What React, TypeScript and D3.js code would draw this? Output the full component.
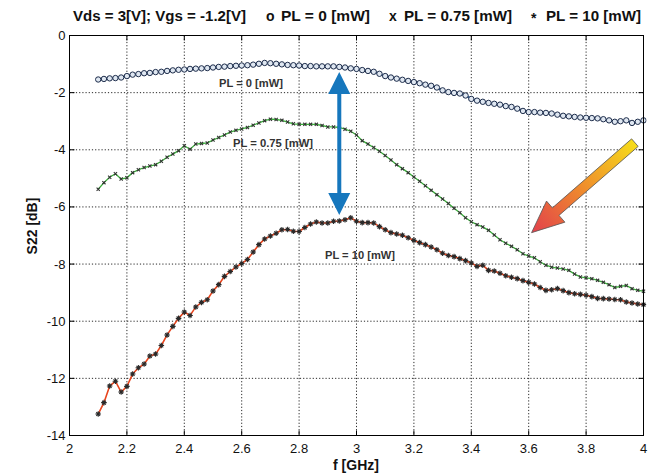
import React from "react";
import * as d3 from "d3";

const FREQ = [2.10,2.12,2.14,2.16,2.18,2.20,2.22,2.24,2.26,2.28,2.30,2.32,2.34,2.36,2.38,2.40,2.42,2.44,2.46,2.48,2.50,2.52,2.54,2.56,2.58,2.60,2.62,2.64,2.66,2.68,2.70,2.72,2.74,2.76,2.78,2.80,2.82,2.84,2.86,2.88,2.90,2.92,2.94,2.96,2.98,3.00,3.02,3.04,3.06,3.08,3.10,3.12,3.14,3.16,3.18,3.20,3.22,3.24,3.26,3.28,3.30,3.32,3.34,3.36,3.38,3.40,3.42,3.44,3.46,3.48,3.50,3.52,3.54,3.56,3.58,3.60,3.62,3.64,3.66,3.68,3.70,3.72,3.74,3.76,3.78,3.80,3.82,3.84,3.86,3.88,3.90,3.92,3.94,3.96,3.98,4.00];

const PL0 = [-1.54,-1.52,-1.50,-1.49,-1.47,-1.42,-1.37,-1.35,-1.32,-1.31,-1.28,-1.27,-1.24,-1.22,-1.20,-1.19,-1.17,-1.16,-1.15,-1.14,-1.12,-1.10,-1.09,-1.07,-1.06,-1.05,-1.04,-1.02,-0.99,-0.96,-0.97,-0.99,-1.01,-1.03,-1.04,-1.05,-1.07,-1.07,-1.08,-1.08,-1.08,-1.08,-1.10,-1.12,-1.15,-1.17,-1.21,-1.24,-1.27,-1.34,-1.42,-1.47,-1.51,-1.55,-1.59,-1.63,-1.67,-1.72,-1.76,-1.82,-1.92,-1.98,-2.01,-2.03,-2.10,-2.22,-2.28,-2.32,-2.36,-2.39,-2.42,-2.47,-2.50,-2.56,-2.64,-2.68,-2.68,-2.70,-2.71,-2.73,-2.77,-2.81,-2.83,-2.85,-2.87,-2.88,-2.89,-2.90,-2.93,-2.97,-3.02,-3.00,-2.97,-3.06,-3.02,-2.97];

const PL075 = [-5.38,-5.15,-4.96,-4.84,-5.02,-4.98,-4.80,-4.70,-4.62,-4.57,-4.52,-4.40,-4.26,-4.15,-4.03,-3.86,-3.98,-3.80,-3.78,-3.76,-3.66,-3.57,-3.48,-3.38,-3.32,-3.27,-3.22,-3.14,-3.06,-2.98,-2.93,-2.94,-2.97,-3.03,-3.09,-3.11,-3.11,-3.11,-3.11,-3.15,-3.20,-3.20,-3.22,-3.28,-3.35,-3.48,-3.68,-3.80,-3.92,-4.05,-4.20,-4.36,-4.52,-4.66,-4.80,-4.95,-5.10,-5.26,-5.42,-5.57,-5.72,-5.88,-6.05,-6.20,-6.38,-6.52,-6.62,-6.70,-6.82,-6.98,-7.15,-7.27,-7.38,-7.50,-7.64,-7.72,-7.78,-7.92,-8.04,-8.11,-8.14,-8.17,-8.22,-8.35,-8.45,-8.48,-8.51,-8.57,-8.64,-8.72,-8.82,-8.78,-8.75,-8.86,-8.92,-8.95];

const PL10 = [-13.25,-12.85,-12.27,-12.10,-12.48,-12.28,-11.85,-11.63,-11.50,-11.22,-11.15,-10.85,-10.48,-10.18,-9.90,-9.68,-9.80,-9.50,-9.34,-9.25,-8.94,-8.72,-8.43,-8.26,-8.10,-7.98,-7.84,-7.58,-7.32,-7.12,-7.02,-6.92,-6.80,-6.79,-6.85,-6.86,-6.72,-6.60,-6.53,-6.56,-6.56,-6.50,-6.49,-6.45,-6.38,-6.50,-6.55,-6.55,-6.56,-6.69,-6.80,-6.90,-6.95,-6.99,-7.08,-7.17,-7.25,-7.32,-7.40,-7.50,-7.62,-7.70,-7.74,-7.81,-7.88,-7.96,-8.08,-8.04,-8.22,-8.24,-8.32,-8.41,-8.46,-8.51,-8.58,-8.64,-8.70,-8.82,-8.92,-8.90,-8.86,-8.93,-9.00,-9.04,-9.06,-9.09,-9.14,-9.20,-9.21,-9.22,-9.24,-9.25,-9.33,-9.36,-9.40,-9.42];

const X_TICKS = [2, 2.2, 2.4, 2.6, 2.8, 3, 3.2, 3.4, 3.6, 3.8, 4];
const X_LABELS = ["2", "2.2", "2.4", "2.6", "2.8", "3", "3.2", "3.4", "3.6", "3.8", "4"];
const Y_TICKS = [0, -2, -4, -6, -8, -10, -12, -14];
const Y_LABELS = ["0", "-2", "-4", "-6", "-8", "-10", "-12", "-14"];

const FONT = "Arial, 'Liberation Sans', sans-serif";

export default function App() {
  const W = 650, H = 473;
  const L = 69.5, R = 643.5, T = 35.5, B = 435.5;
  const x = d3.scaleLinear().domain([2, 4]).range([L, R]);
  const y = d3.scaleLinear().domain([-14, 0]).range([B, T]);

  const mk = (vals: number[]) => FREQ.map((f, i) => [f, vals[i]] as [number, number]);
  const line = d3.line<[number, number]>().x(d => x(d[0])).y(d => y(d[1]));
  const d0 = mk(PL0), d1 = mk(PL075), d2 = mk(PL10);

  // blue double arrow
  const ax = x(2.94);
  const aTop = y(-1.28), aBot = y(-6.28);
  const hl = 22, hw = 11;

  // gradient arrow (tail -> tip)
  const tail = [x(3.97), y(-3.75)];
  const tip = [x(3.61), y(-6.9)];
  const dx = tip[0] - tail[0], dy = tip[1] - tail[1];
  const len = Math.hypot(dx, dy);
  const ux = dx / len, uy = dy / len;
  const px = -uy, py = ux;
  const sw = 5, hw2 = 14, hl2 = 32;
  const bx = tip[0] - ux * hl2, by = tip[1] - uy * hl2;
  const gpts = [
    [tail[0] + px * sw, tail[1] + py * sw],
    [bx + px * sw, by + py * sw],
    [bx + px * hw2, by + py * hw2],
    [tip[0], tip[1]],
    [bx - px * hw2, by - py * hw2],
    [bx - px * sw, by - py * sw],
    [tail[0] - px * sw, tail[1] - py * sw],
  ];

  return (
    <svg width={W} height={H} style={{ position: "absolute", left: 0, top: 0, background: "#fff" }} fontFamily={FONT}>
      <defs>
        <linearGradient id="garr" gradientUnits="userSpaceOnUse" x1={tail[0]} y1={tail[1]} x2={tip[0]} y2={tip[1]}>
          <stop offset="0" stopColor="#f6dc1a" />
          <stop offset="0.5" stopColor="#ef8d2c" />
          <stop offset="1" stopColor="#e2404c" />
        </linearGradient>
        <clipPath id="plot"><rect x={L - 3} y={T} width={R - L + 6} height={B - T} /></clipPath>
      </defs>

      {/* grid */}
      {X_TICKS.slice(1, -1).map(t => (
        <line key={"gx" + t} x1={x(t)} x2={x(t)} y1={T} y2={B} stroke="#111" strokeWidth={0.9} strokeDasharray="1.2,2" />
      ))}
      {Y_TICKS.slice(1, -1).map(t => (
        <line key={"gy" + t} x1={L} x2={R} y1={y(t)} y2={y(t)} stroke="#111" strokeWidth={0.9} strokeDasharray="1.2,2" />
      ))}

      {/* ticks */}
      {X_TICKS.map(t => (
        <g key={"tx" + t}>
          <line x1={x(t)} x2={x(t)} y1={B} y2={B - 5} stroke="#000" />
          <line x1={x(t)} x2={x(t)} y1={T} y2={T + 5} stroke="#000" />
        </g>
      ))}
      {Y_TICKS.map(t => (
        <g key={"ty" + t}>
          <line x1={L} x2={L + 5} y1={y(t)} y2={y(t)} stroke="#000" />
          <line x1={R} x2={R - 5} y1={y(t)} y2={y(t)} stroke="#000" />
        </g>
      ))}

      {/* series */}
      <g clipPath="url(#plot)">
        <path d={line(d1) || ""} fill="none" stroke="#3aad3a" strokeWidth={1.3} />
        {d1.map((p, i) => (
          <path key={"m1" + i} d={`M${x(p[0]) - 1.6},${y(p[1]) - 1.6}L${x(p[0]) + 1.6},${y(p[1]) + 1.6}M${x(p[0]) - 1.6},${y(p[1]) + 1.6}L${x(p[0]) + 1.6},${y(p[1]) - 1.6}`} stroke="#333" strokeWidth={1.1} />
        ))}
        <path d={line(d2) || ""} fill="none" stroke="#e8451e" strokeWidth={1.6} />
        {d2.map((p, i) => {
          const cx = x(p[0]), cy = y(p[1]);
          return (
            <path key={"m2" + i} d={`M${cx - 2.8},${cy}L${cx + 2.8},${cy}M${cx},${cy - 2.8}L${cx},${cy + 2.8}M${cx - 1.9},${cy - 1.9}L${cx + 1.9},${cy + 1.9}M${cx - 1.9},${cy + 1.9}L${cx + 1.9},${cy - 1.9}`} stroke="#2a2a2a" strokeWidth={1.1} />
          );
        })}
        <path d={line(d0) || ""} fill="none" stroke="#1f5fa8" strokeWidth={2} />
        {d0.map((p, i) => (
          <circle key={"m0" + i} cx={x(p[0])} cy={y(p[1])} r={2.7} fill="#dfe7f1" stroke="#1d2c4a" strokeWidth={1} />
        ))}
      </g>

      {/* axes box */}
      <rect x={L} y={T} width={R - L} height={B - T} fill="none" stroke="#000" strokeWidth={1} />

      {/* tick labels */}
      {X_TICKS.map((t, i) => (
        <text key={"lx" + t} x={x(t)} y={B + 17} fontSize={13} textAnchor="middle" fill="#111">{X_LABELS[i]}</text>
      ))}
      {Y_TICKS.map((t, i) => (
        <text key={"ly" + t} x={L - 4} y={y(t) + 4.5} fontSize={13} textAnchor="end" fill="#111">{Y_LABELS[i]}</text>
      ))}

      {/* axis labels */}
      <text x={356} y={470} fontSize={14} fontWeight="bold" textAnchor="middle" fill="#111">f [GHz]</text>
      <text transform="translate(37,226) rotate(-90)" fontSize={14} fontWeight="bold" textAnchor="middle" fill="#111">S22 [dB]</text>

      {/* title */}
      <g fontSize={14} fontWeight="bold" fill="#111">
        <text x={73} y={21} textLength={173} lengthAdjust="spacingAndGlyphs">Vds = 3[V]; Vgs = -1.2[V]</text>
        <text x={266} y={21}>o</text>
        <text x={281} y={21} textLength={89} lengthAdjust="spacingAndGlyphs">PL = 0 [mW]</text>
        <text x={389} y={21}>x</text>
        <text x={404} y={21} textLength={108} lengthAdjust="spacingAndGlyphs">PL = 0.75 [mW]</text>
        <text x={531} y={23}>*</text>
        <text x={546} y={21} textLength={95} lengthAdjust="spacingAndGlyphs">PL = 10 [mW]</text>
      </g>

      {/* in-plot labels */}
      <g fontSize={10} fontWeight="bold" fill="#333">
        <text x={219} y={87} textLength={64} lengthAdjust="spacingAndGlyphs">PL = 0 [mW]</text>
        <text x={233} y={147} textLength={80} lengthAdjust="spacingAndGlyphs">PL = 0.75 [mW]</text>
        <text x={325} y={259} textLength={70} lengthAdjust="spacingAndGlyphs">PL = 10 [mW]</text>
      </g>

      {/* blue double arrow */}
      <g fill="#1677bd">
        <rect x={ax - 2} y={aTop + hl - 1} width={4} height={aBot - aTop - 2 * hl + 2} />
        <path d={`M${ax},${aTop}L${ax + hw},${aTop + hl}L${ax - hw},${aTop + hl}Z`} />
        <path d={`M${ax},${aBot}L${ax + hw},${aBot - hl}L${ax - hw},${aBot - hl}Z`} />
      </g>

      {/* gradient arrow */}
      <path d={"M" + gpts.map(p => p.join(",")).join("L") + "Z"} fill="url(#garr)" stroke="#555" strokeWidth={0.8} />
    </svg>
  );
}
